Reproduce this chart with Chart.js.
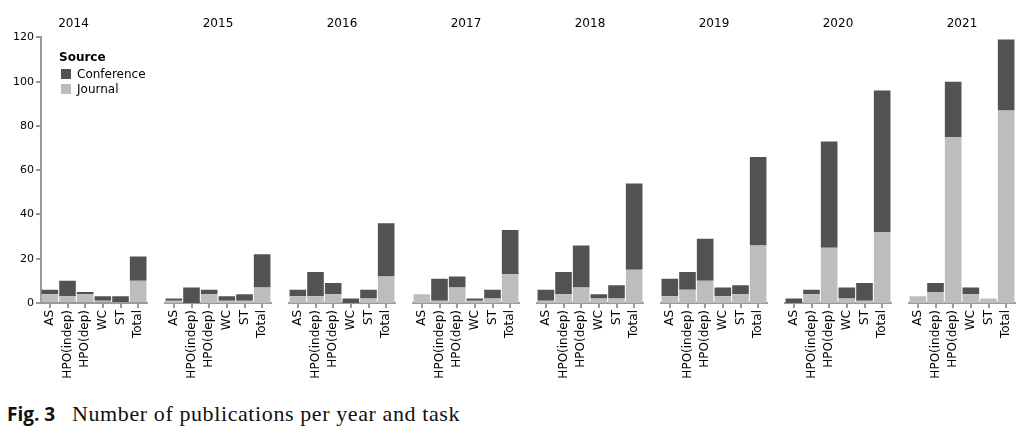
<!DOCTYPE html>
<html>
<head>
<meta charset="utf-8">
<script src="https://cdn.jsdelivr.net/npm/chart.js"></script>
<style>
    body { margin: 0; background: #fff; width: 1031px; height: 428px; position: relative; overflow: hidden; font-family: "DejaVu Sans", sans-serif; }
    .facet { position: absolute; top: 0; }
    #legend { position: absolute; left: 59px; top: 50px; font-size: 12px; color: #000; line-height: 15px; }
    #legend .ttl { font-weight: bold; margin-bottom: 2px; }
    #legend .sw { display: inline-block; width: 10px; height: 10px; margin: 0 6px 0 2px; vertical-align: -1px; }
    .cap { position: absolute; white-space: nowrap; color: #111; }
    #capFig { left: 7px; top: 405px; font-family: "Open Sans", sans-serif; font-size: 19px; line-height: 19px; font-weight: bold; }
    #capText { left: 72px; top: 403px; font-family: "Liberation Serif", serif; font-size: 22px; line-height: 22px; letter-spacing: 0.6px; }
</style>
</head>
<body>
<div id="charts"></div>
<div id="legend">
    <div class="ttl">Source</div>
    <div><span class="sw" style="background:#525252"></span>Conference</div>
    <div><span class="sw" style="background:#bcbdbc"></span>Journal</div>
</div>
<div class="cap" id="capFig">Fig. 3</div>
<div class="cap" id="capText">Number of publications per year and task</div>
<script>
// Данные: публикации по годам и задачам
const years = [2014, 2015, 2016, 2017, 2018, 2019, 2020, 2021];
const tasks = ["AS", "HPO(indep)", "HPO(dep)", "WC", "ST", "Total"];
const yTicks = [0, 20, 40, 60, 80, 100, 120];

// Journal (нижний сегмент), по годам
const journal = [
    [4, 3, 4, 1, 0, 10],
    [1, 0, 4, 1, 1, 7],
    [3, 3, 4, 0, 2, 12],
    [4, 1, 7, 1, 2, 13],
    [1, 4, 7, 2, 2, 15],
    [3, 6, 10, 3, 4, 26],
    [0, 4, 25, 2, 1, 32],
    [3, 5, 75, 4, 2, 87]
];
// Conference (верхний сегмент), по годам
const conference = [
    [2, 7, 1, 2, 3, 11],
    [1, 7, 2, 2, 3, 15],
    [3, 11, 5, 2, 4, 24],
    [0, 10, 5, 1, 4, 20],
    [5, 10, 19, 2, 6, 39],
    [8, 8, 19, 4, 4, 40],
    [2, 2, 48, 5, 8, 64],
    [0, 4, 25, 3, 0, 32]
];

const AXIS = "#9a9a9a";
Chart.defaults.font.family = "'DejaVu Sans', sans-serif";
Chart.defaults.color = "#000";

const container = document.getElementById("charts");

years.forEach((year, i) => {
    const first = i === 0;
    const padL = first ? 0 : 3;
    const width = first ? 150 : 112;
    const left = first ? 0 : 41 + 124 * i - 3;

    const wrap = document.createElement("div");
    wrap.className = "facet";
    wrap.style.left = left + "px";
    const canvas = document.createElement("canvas");
    canvas.width = width;
    canvas.height = 390;
    canvas.style.width = width + "px";
    canvas.style.height = "390px";
    wrap.appendChild(canvas);
    container.appendChild(wrap);

    new Chart(canvas.getContext("2d"), {
        type: "bar",
        data: {
            labels: tasks,
            datasets: [
                { label: "Journal", data: journal[i], backgroundColor: "#bcbdbc", stack: "s" },
                { label: "Conference", data: conference[i], backgroundColor: "#525252", stack: "s" }
            ]
        },
        options: {
            responsive: false,
            animation: false,
            events: [],
            categoryPercentage: 1,
            barPercentage: 0.94,
            layout: { padding: { left: padL, right: 3, top: 0, bottom: 0 } },
            plugins: {
                legend: { display: false },
                tooltip: { enabled: false },
                title: {
                    display: true,
                    text: String(year),
                    font: { size: 12, weight: "normal" },
                    color: "#000",
                    padding: { top: 17, bottom: 6 }
                }
            },
            scales: {
                x: {
                    stacked: true,
                    grid: { display: true, drawOnChartArea: false, offset: false, tickLength: 5, color: AXIS, lineWidth: 2 },
                    border: { display: true, color: AXIS, width: 2 },
                    ticks: { minRotation: 90, maxRotation: 90, autoSkip: false, padding: 2, font: { size: 12 } },
                    afterFit: s => { s.height = 87; s.paddingLeft = 0; s.paddingRight = 0; }
                },
                y: {
                    display: first,
                    stacked: true,
                    min: 0,
                    max: 120,
                    afterBuildTicks: s => { s.ticks = yTicks.map(v => ({ value: v })); },
                    grid: { display: true, drawOnChartArea: false, tickLength: 5, color: AXIS, lineWidth: 2 },
                    border: { display: true, color: AXIS, width: 2 },
                    ticks: { padding: 2, font: { size: 11 } },
                    afterFit: s => { s.width = first ? 41 : 0; }
                }
            }
        }
    });
});
</script>
</body>
</html>
